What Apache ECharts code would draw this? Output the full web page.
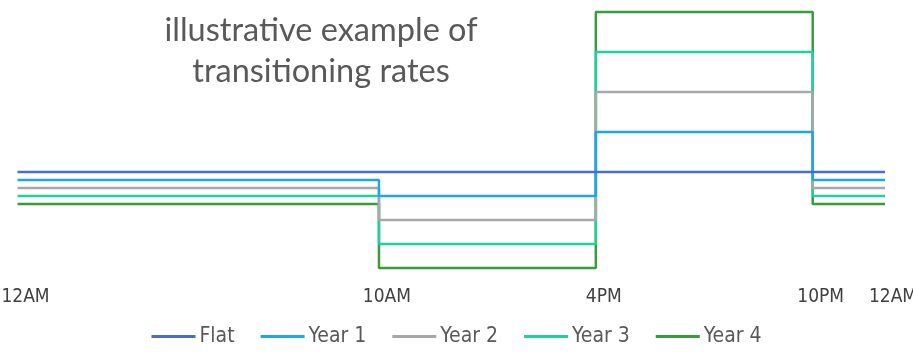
<!DOCTYPE html>
<html>
<head>
<meta charset="utf-8">
<script src="https://cdn.jsdelivr.net/npm/echarts@6/dist/echarts.min.js"></script>
<style>
  html, body { margin: 0; padding: 0; background: #ffffff; }
  #chart { width: 913px; height: 354px; }
</style>
</head>
<body>
<div id="chart"></div>
<script>
// Hours of the day where the rate period changes (0 = midnight, 24 = next midnight)
const periodStarts = [0, 10, 16, 22, 24];
const tickLabels = ['12AM', '10AM', '4PM', '10PM', '12AM'];

// Rate level in each period: off-peak, mid-peak, on-peak, off-peak
const flat  = [27, 27, 27, 27];
const year1 = [25, 21, 37, 25];
const year2 = [23, 15, 47, 23];
const year3 = [21,  9, 57, 21];
const year4 = [19,  3, 67, 19];

const seriesNames = ['Flat', 'Year 1', 'Year 2', 'Year 3', 'Year 4'];
const seriesValues = [flat, year1, year2, year3, year4];
const colors = ['#4a6ec6', '#1ea6e6', '#a8a8a8', '#22d09c', '#3a9a3e'];

// Turn per-period levels into step points: each level holds until the next change
function toSteps(levels) {
  const pts = levels.map((v, i) => [periodStarts[i], v]);
  pts.push([periodStarts[periodStarts.length - 1], levels[levels.length - 1]]);
  return pts;
}

const chart = echarts.init(document.getElementById('chart'), null, { renderer: 'canvas' });

const labelFont = "'DejaVu Sans Condensed', 'Liberation Sans Narrow', sans-serif";

chart.setOption({
  animation: false,
  color: colors,
  title: {
    text: 'illustrative example of\ntransitioning rates',
    left: 316,
    top: 5,
    textAlign: 'center',
    textStyle: {
      fontFamily: "Lato, 'Open Sans', sans-serif",
      fontWeight: 'normal',
      fontSize: 32.5,
      lineHeight: 41,
      color: '#595959'
    }
  },
  legend: {
    bottom: 2,
    left: 'center',
    itemWidth: 44,
    itemHeight: 3,
    itemGap: 26,
    icon: 'rect',
    data: seriesNames,
    textStyle: {
      fontFamily: labelFont,
      fontSize: 21,
      color: '#595959',
      padding: [0, 0, 0, -1]
    }
  },
  grid: {
    left: 17.5,
    right: 28,
    top: 0,
    height: 280,
    containLabel: false,
    outerBoundsMode: 'none'
  },
  xAxis: {
    type: 'value',
    min: 0,
    max: 24,
    axisLine: { show: false },
    axisTick: { show: false },
    splitLine: { show: false },
    axisLabel: {
      customValues: periodStarts,
      margin: 8,
      fontFamily: labelFont,
      fontSize: 19,
      color: '#404040',
      padding: [0, 0, 0, 16],
      formatter: function (v) {
        const i = periodStarts.indexOf(v);
        return i >= 0 ? tickLabels[i] : '';
      }
    }
  },
  yAxis: {
    type: 'value',
    min: 0,
    max: 70,
    show: false,
    splitLine: { show: false }
  },
  series: seriesNames.map((name, i) => ({
    name: name,
    type: 'line',
    step: 'end',
    showSymbol: false,
    data: toSteps(seriesValues[i]),
    lineStyle: { width: 2.5, color: colors[i] },
    itemStyle: { color: colors[i] },
    z: 10 - i
  }))
});
</script>
</body>
</html>
